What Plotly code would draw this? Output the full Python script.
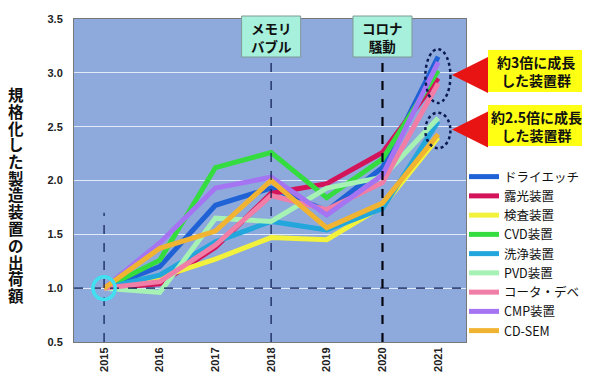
import plotly.graph_objects as go

years = [2015, 2016, 2017, 2018, 2019, 2020, 2021]
series_names = ["ドライエッチ", "露光装置", "検査装置", "CVD装置", "洗浄装置",
                "PVD装置", "コータ・デベ", "CMP装置", "CD-SEM"]
dry_etch   = [1.0, 1.20, 1.77, 1.93, 1.72, 2.12, 3.15]
exposure   = [1.0, 1.04, 1.38, 1.88, 1.97, 2.26, 2.95]
inspection = [1.0, 1.10, 1.27, 1.47, 1.45, 1.76, 2.40]
cvd        = [1.0, 1.26, 2.12, 2.26, 1.84, 2.20, 3.02]
cleaning   = [1.0, 1.12, 1.43, 1.62, 1.54, 1.74, 2.55]
pvd        = [1.0, 0.96, 1.65, 1.62, 1.93, 2.03, 2.58]
coater     = [1.0, 1.06, 1.40, 1.86, 1.73, 1.98, 2.90]
cmp_       = [1.0, 1.42, 1.93, 2.03, 1.68, 2.05, 3.10]
cdsem      = [1.0, 1.37, 1.53, 2.00, 1.56, 1.79, 2.43]
series_values = [dry_etch, exposure, inspection, cvd, cleaning, pvd, coater, cmp_, cdsem]
colors = ["#1e62d6", "#d4145a", "#f2f23c", "#35dc40", "#22a6dc",
          "#a6f2b4", "#f07ea6", "#a474f2", "#f0b432"]

y_ticks = [0.5, 1.0, 1.5, 2.0, 2.5, 3.0, 3.5]
y_title = "規格化した製造装置の出荷額"
event_labels = ["メモリ<br>バブル", "コロナ<br>騒動"]
event_years = [2018, 2020]
callouts = ["約3倍に成長<br>した装置群", "約2.5倍に成長<br>した装置群"]

# the page body adds an 8px offset; size the figure so it fills the window
OFF = 8
W, H = 590 - OFF, 384 - OFF
PL, PR, PT, PB = 74, 466, 19, 342          # plot edges in window pixels
L, R, T, B = PL - OFF, W - (PR - OFF), PT - OFF, H - (PB - OFF)
pw, ph = PR - PL, PB - PT

def py2p(py):
    return 1 - (py - PT) / ph

def px2p(px):
    return (px - PL) / pw

jp = "Noto Sans CJK JP"

fig = go.Figure()
for name, vals, col in zip(series_names, series_values, colors):
    fig.add_trace(go.Scatter(x=years, y=vals, mode="lines", name=name,
                             line=dict(color=col, width=5)))

shapes = []
shapes.append(dict(type="line", xref="paper", yref="y", x0=0, x1=1, y0=1.0, y1=1.0,
                   line=dict(color="#0a1a50", width=1.2, dash="dash"), layer="above"))
shapes.append(dict(type="line", xref="x", yref="y", x0=2015, x1=2015, y0=0.5, y1=1.70,
                   line=dict(color="#0a1a50", width=1.2, dash="dash"), layer="above"))
shapes.append(dict(type="line", xref="x", yref="paper", x0=2018, x1=2018, y0=0,
                   y1=py2p(57), line=dict(color="#0a1a50", width=1.2, dash="dash"),
                   layer="above"))
shapes.append(dict(type="line", xref="x", yref="paper", x0=2020, x1=2020, y0=0,
                   y1=py2p(57), line=dict(color="#050510", width=2.2, dash="dash"),
                   layer="above"))
for ey in event_years:
    shapes.append(dict(type="rect", xref="x", yref="paper", x0=ey - 0.53, x1=ey + 0.53,
                       y0=py2p(57), y1=py2p(16),
                       fillcolor="#a6f0dc", line=dict(color="#7f9a96", width=1), layer="above"))
shapes.append(dict(type="circle", xref="x", yref="y", x0=2015 - 0.2, x1=2015 + 0.2,
                   y0=1.0 - 0.105, y1=1.0 + 0.105, line=dict(color="#40e0f0", width=3.5),
                   layer="above"))
shapes.append(dict(type="circle", xref="x", yref="y", x0=2020.77, x1=2021.22, y0=2.72, y1=3.22,
                   line=dict(color="#0a1a50", width=2.5, dash="dot"), layer="above"))
shapes.append(dict(type="circle", xref="x", yref="y", x0=2020.77, x1=2021.22, y0=2.30, y1=2.63,
                   line=dict(color="#0a1a50", width=2.5, dash="dot"), layer="above"))
callout_boxes = [(50, 92), (105, 146)]
for (t, b) in callout_boxes:
    shapes.append(dict(type="rect", xref="paper", yref="paper", x0=px2p(488),
                       x1=px2p(585), y0=py2p(b), y1=py2p(t),
                       fillcolor="#ffff14", line=dict(width=0)))

annotations = []
n = len(y_title)
for i, ch in enumerate(y_title):
    cy = 94 + i * (295 - 94) / (n - 1)
    annotations.append(dict(text=ch, xref="paper", yref="paper", x=px2p(16), y=py2p(cy),
                            showarrow=False, xanchor="center", yanchor="middle",
                            font=dict(family=jp, size=15.5, color="#111", weight="bold")))
for lab, ey in zip(event_labels, event_years):
    annotations.append(dict(text=lab, xref="x", yref="paper", x=ey, y=py2p(37),
                            showarrow=False, xanchor="center", yanchor="middle",
                            font=dict(family=jp, size=13.5, color="#111", weight="bold")))
for lab, (t, b) in zip(callouts, callout_boxes):
    annotations.append(dict(text=lab, xref="paper", yref="paper", x=px2p(536),
                            y=py2p((t + b) / 2), showarrow=False, xanchor="center",
                            yanchor="middle",
                            font=dict(family=jp, size=14, color="#111", weight="bold")))
    annotations.append(dict(text="", xref="paper", yref="paper", x=px2p(452),
                            y=py2p((t + b) / 2 + 4), showarrow=True, ax=36, ay=0,
                            arrowhead=2, arrowsize=1.2, arrowwidth=6, arrowcolor="#e81414"))

fig.update_layout(
    width=W, height=H,
    margin=dict(l=L, r=R, t=T, b=B, autoexpand=False),
    paper_bgcolor="white",
    plot_bgcolor="#8eaadc",
    showlegend=True,
    legend=dict(x=px2p(464), y=py2p(162), xanchor="left", yanchor="top",
                font=dict(family=jp, size=12.5, color="#111"), bgcolor="rgba(0,0,0,0)",
                itemwidth=30, tracegroupgap=0),
    xaxis=dict(range=[2014.46, 2021.5], tickvals=years, ticktext=[str(y) for y in years],
               tickangle=-90, showgrid=False, zeroline=False, showline=True,
               linecolor="#777", mirror=True, ticks="",
               tickfont=dict(family="Liberation Sans", size=11, color="#222", weight="bold")),
    yaxis=dict(range=[0.5, 3.5], tickvals=y_ticks, ticktext=[f"{v:.1f}" for v in y_ticks],
               showgrid=True, gridcolor="rgba(235,242,255,0.9)", gridwidth=1, zeroline=False,
               showline=True, linecolor="#777", mirror=True, ticks="", ticklabelstandoff=8,
               tickfont=dict(family="Liberation Sans", size=11, color="#222", weight="bold")),
    shapes=shapes,
    annotations=annotations,
)

fig.write_html("out.html")
